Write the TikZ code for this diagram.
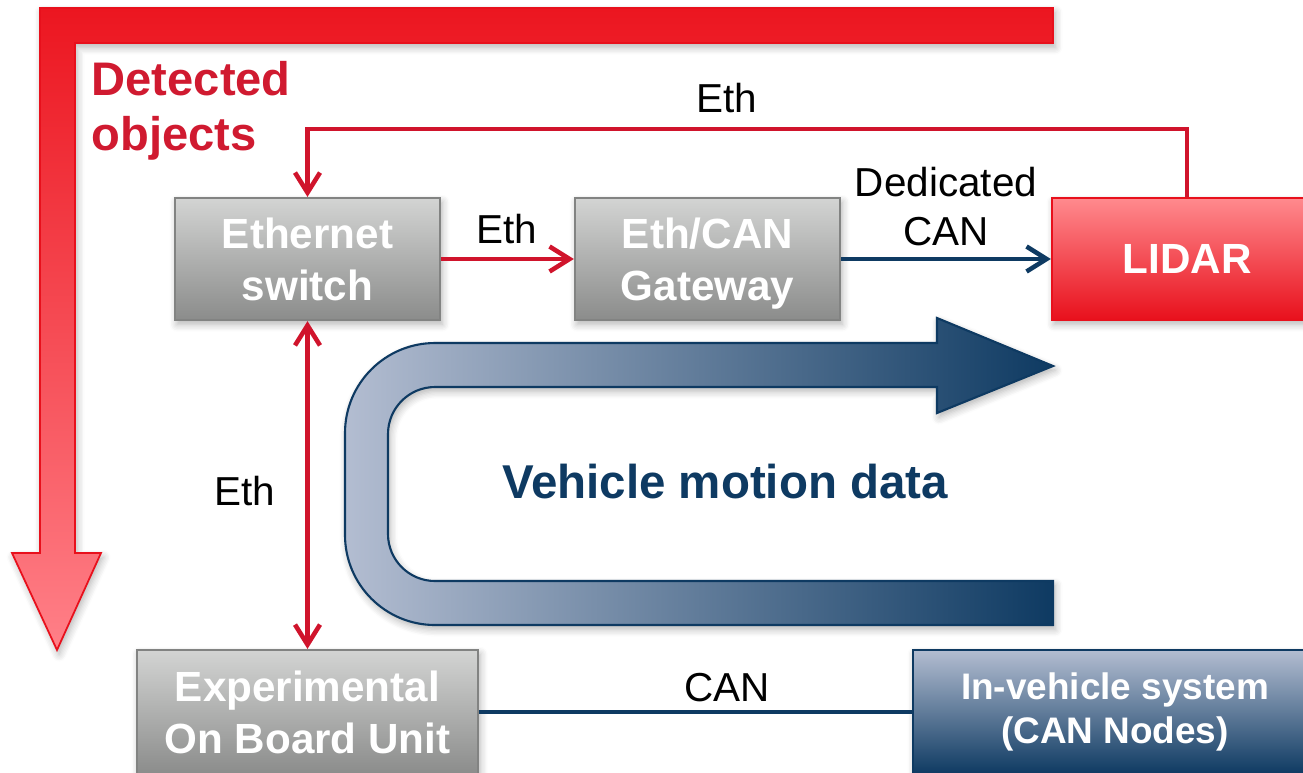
\documentclass[tikz,border=0pt]{standalone}
\usepackage{fontspec}
\setmainfont{Liberation Sans}
\usetikzlibrary{arrows.meta}
\usetikzlibrary{shadows.blur}
\usetikzlibrary{calc}

\definecolor{navy}{RGB}{14,58,98}
\definecolor{linered}{RGB}{208,20,44}
\definecolor{textred}{RGB}{208,26,48}
\definecolor{darkred}{RGB}{236,22,32}
\definecolor{pinkred}{RGB}{255,128,136}
\definecolor{boxtop}{RGB}{211,212,211}
\definecolor{boxbottom}{RGB}{139,140,139}
\definecolor{boxedge}{RGB}{130,131,130}
\definecolor{lidartop}{RGB}{255,138,142}
\definecolor{lidarbottom}{RGB}{232,16,28}
\definecolor{vmlight}{RGB}{179,189,209}
\definecolor{vmmid}{RGB}{140,150,172}

\begin{document}
\begin{tikzpicture}[x=0.01cm, y=-0.01cm,
	softshadow/.style={blur shadow={shadow xshift=0.6pt, shadow yshift=-1.2pt, shadow opacity=30, shadow blur steps=6}},
	greybox/.style={draw=boxedge, line width=0.6pt, top color=boxtop, bottom color=boxbottom, minimum width=2.65cm, minimum height=1.22cm, inner sep=0pt, align=center, text=white, font=\fontsize{12}{14.8}\selectfont\bfseries, softshadow},
	lidarbox/.style={greybox, draw=lidarbottom, top color=lidartop, bottom color=lidarbottom, minimum width=2.7cm},
	carbox/.style={greybox, draw=navy, top color=vmlight, bottom color=navy, minimum width=4.04cm, minimum height=1.24cm, font=\fontsize{10.5}{12.5}\selectfont\bfseries},
	lbl/.style={inner sep=0pt, align=center, font=\fontsize{11.5}{14.2}\selectfont},
	barb/.tip={Straight Barb[length=2mm, width=2.5mm]},
	redarrow/.style={draw=linered, line width=1.3pt, -barb},
	bluearrow/.style={draw=navy, line width=1.3pt, -barb},
	canline/.style={draw=navy, line width=1.3pt}
]
	\clip (0,0) rectangle (1303,772);

	%big red arrow for the detected objects
	\path[draw=lidarbottom, line width=0.5pt, top color=darkred, bottom color=pinkred, softshadow]
		(40,8) -- (1053,8) -- (1053,43) -- (75,43) -- (75,553) -- (101,553) -- (57,650) -- (12,553) -- (40,553) -- cycle;
	\node[anchor=north west, inner sep=0pt, align=left, text=textred, font=\fontsize{13.4}{15.6}\selectfont\bfseries] (detected) at (91,61) {Detected\\objects};

	%u-turn arrow for the vehicle motion data
	\path[draw=navy, line width=0.6pt, left color=vmlight, middle color=vmmid, right color=navy, softshadow]
		(1053,625) -- (435,625) arc[start angle=90, end angle=180, radius=90]
		-- (345,433) arc[start angle=180, end angle=270, radius=90]
		-- (937,343) -- (937,318) -- (1053,366) -- (937,413) -- (937,387)
		-- (435,387) arc[start angle=270, end angle=180, radius=47]
		-- (388,534) arc[start angle=180, end angle=90, radius=47]
		-- (1053,581) -- cycle;
	\node[anchor=base, inner sep=0pt, text=navy, font=\fontsize{13.5}{16}\selectfont\bfseries] (motion) at (725,498) {Vehicle motion data};

	%boxes
	\node[greybox] (switch) at (307.5,259) {Ethernet\\switch};
	\node[greybox] (gateway) at (707.5,259) {Eth/CAN\\\raisebox{0pt}[\height][0pt]{Gateway}};
	\node[lidarbox] (lidar) at (1187,259) {LIDAR};
	\node[greybox, minimum width=3.41cm, minimum height=1.24cm] (obu) at (307.5,712) {Experimental\\On Board Unit};
	\node[carbox] (invehicle) at (1115,712) {In-vehicle system\\(CAN Nodes)};

	%connections
	\draw[redarrow] (switch) -- (gateway);
	\draw[bluearrow] (gateway) -- (lidar);
	\draw[redarrow] (lidar.north) -- ++(0,-68) -| (switch.north);
	\draw[redarrow, barb-barb] (switch) -- (obu);
	\draw[canline] (obu) -- (invehicle);

	%connection labels
	\node[lbl, anchor=base] (ethtop) at (727,112) {Eth};
	\node[lbl, anchor=base] (ethmid) at (507,243) {Eth};
	\node[lbl, anchor=north] (dedicated) at (946,166) {Dedicated\\CAN};
	\node[lbl, anchor=base] (ethleft) at (245,505) {Eth};
	\node[lbl, anchor=base] (canbottom) at (727,701) {CAN};

\end{tikzpicture}
\end{document}
